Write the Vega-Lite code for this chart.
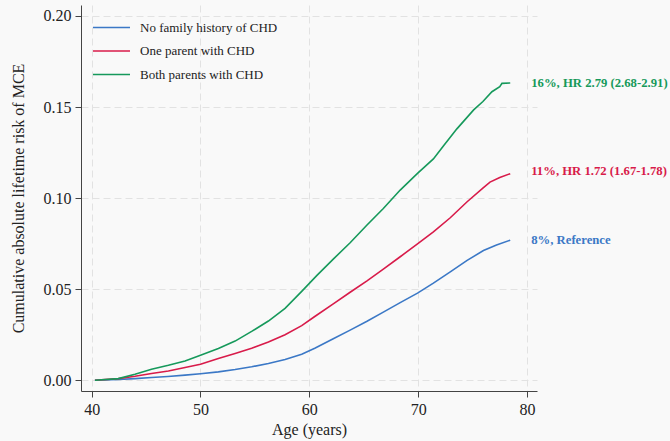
{
  "$schema": "https://vega.github.io/schema/vega-lite/v6.json",
  "width": 456,
  "height": 386,
  "autosize": {"type": "none"},
  "padding": {"left": 81, "top": 5, "right": 133, "bottom": 50},
  "background": "#f9f9f9",
  "config": {
    "font": "Liberation Serif",
    "view": {"stroke": null},
    "axis": {
      "labelFont": "Liberation Serif",
      "titleFont": "Liberation Serif",
      "labelFontSize": 16,
      "titleFontSize": 16,
      "titleFontWeight": "normal",
      "labelColor": "#222",
      "titleColor": "#222",
      "domainColor": "#444",
      "tickColor": "#444",
      "tickSize": 6,
      "labelPadding": 4,
      "gridColor": "#e2e2e2",
      "gridDash": [7, 4],
      "gridWidth": 1
    }
  },
  "datasets": {
    "curves": [
      {"group": "No family history of CHD", "age": 40.3, "risk": 0},
      {"group": "No family history of CHD", "age": 42.45, "risk": 0.0004},
      {"group": "No family history of CHD", "age": 44.0, "risk": 0.0009},
      {"group": "No family history of CHD", "age": 45.5, "risk": 0.0015},
      {"group": "No family history of CHD", "age": 47.0, "risk": 0.0021},
      {"group": "No family history of CHD", "age": 48.58, "risk": 0.0028},
      {"group": "No family history of CHD", "age": 50.0, "risk": 0.0036},
      {"group": "No family history of CHD", "age": 51.64, "risk": 0.0046},
      {"group": "No family history of CHD", "age": 53.18, "risk": 0.0059},
      {"group": "No family history of CHD", "age": 54.7, "risk": 0.0074},
      {"group": "No family history of CHD", "age": 56.24, "risk": 0.0092},
      {"group": "No family history of CHD", "age": 57.77, "risk": 0.0114},
      {"group": "No family history of CHD", "age": 59.3, "risk": 0.0143},
      {"group": "No family history of CHD", "age": 60.5, "risk": 0.0176},
      {"group": "No family history of CHD", "age": 62.2, "risk": 0.0228},
      {"group": "No family history of CHD", "age": 63.75, "risk": 0.0275},
      {"group": "No family history of CHD", "age": 65.3, "risk": 0.0324},
      {"group": "No family history of CHD", "age": 66.8, "risk": 0.0374},
      {"group": "No family history of CHD", "age": 68.35, "risk": 0.0426},
      {"group": "No family history of CHD", "age": 69.94, "risk": 0.0478},
      {"group": "No family history of CHD", "age": 71.4, "risk": 0.0533},
      {"group": "No family history of CHD", "age": 72.95, "risk": 0.0595},
      {"group": "No family history of CHD", "age": 74.5, "risk": 0.0658},
      {"group": "No family history of CHD", "age": 76.0, "risk": 0.0712},
      {"group": "No family history of CHD", "age": 77.2, "risk": 0.0742},
      {"group": "No family history of CHD", "age": 78.46, "risk": 0.0769},
      {"group": "One parent with CHD", "age": 40.3, "risk": 0},
      {"group": "One parent with CHD", "age": 42.45, "risk": 0.0009},
      {"group": "One parent with CHD", "age": 43.98, "risk": 0.0022},
      {"group": "One parent with CHD", "age": 45.5, "risk": 0.0037},
      {"group": "One parent with CHD", "age": 47.05, "risk": 0.0051},
      {"group": "One parent with CHD", "age": 48.58, "risk": 0.007},
      {"group": "One parent with CHD", "age": 50.0, "risk": 0.0088},
      {"group": "One parent with CHD", "age": 51.64, "risk": 0.0119},
      {"group": "One parent with CHD", "age": 53.18, "risk": 0.0147},
      {"group": "One parent with CHD", "age": 54.7, "risk": 0.0176},
      {"group": "One parent with CHD", "age": 56.24, "risk": 0.021},
      {"group": "One parent with CHD", "age": 57.77, "risk": 0.0250},
      {"group": "One parent with CHD", "age": 59.3, "risk": 0.0300},
      {"group": "One parent with CHD", "age": 60.5, "risk": 0.0350},
      {"group": "One parent with CHD", "age": 62.2, "risk": 0.0419},
      {"group": "One parent with CHD", "age": 63.75, "risk": 0.0483},
      {"group": "One parent with CHD", "age": 65.3, "risk": 0.0546},
      {"group": "One parent with CHD", "age": 66.8, "risk": 0.061},
      {"group": "One parent with CHD", "age": 68.35, "risk": 0.0678},
      {"group": "One parent with CHD", "age": 69.94, "risk": 0.0749},
      {"group": "One parent with CHD", "age": 71.4, "risk": 0.0815},
      {"group": "One parent with CHD", "age": 72.95, "risk": 0.0892},
      {"group": "One parent with CHD", "age": 74.5, "risk": 0.098},
      {"group": "One parent with CHD", "age": 76.0, "risk": 0.1058},
      {"group": "One parent with CHD", "age": 76.6, "risk": 0.1088},
      {"group": "One parent with CHD", "age": 77.5, "risk": 0.1113},
      {"group": "One parent with CHD", "age": 78.46, "risk": 0.1134},
      {"group": "Both parents with CHD", "age": 40.3, "risk": 0},
      {"group": "Both parents with CHD", "age": 42.45, "risk": 0.0009},
      {"group": "Both parents with CHD", "age": 43.98, "risk": 0.0033},
      {"group": "Both parents with CHD", "age": 45.5, "risk": 0.006},
      {"group": "Both parents with CHD", "age": 47.05, "risk": 0.0082},
      {"group": "Both parents with CHD", "age": 48.58, "risk": 0.0106},
      {"group": "Both parents with CHD", "age": 50.0, "risk": 0.0137},
      {"group": "Both parents with CHD", "age": 51.64, "risk": 0.0174},
      {"group": "Both parents with CHD", "age": 53.18, "risk": 0.0215},
      {"group": "Both parents with CHD", "age": 54.7, "risk": 0.0268},
      {"group": "Both parents with CHD", "age": 56.24, "risk": 0.0325},
      {"group": "Both parents with CHD", "age": 57.77, "risk": 0.0395},
      {"group": "Both parents with CHD", "age": 59.3, "risk": 0.0488},
      {"group": "Both parents with CHD", "age": 60.7, "risk": 0.0576},
      {"group": "Both parents with CHD", "age": 62.2, "risk": 0.0665},
      {"group": "Both parents with CHD", "age": 63.75, "risk": 0.0755},
      {"group": "Both parents with CHD", "age": 65.3, "risk": 0.0852},
      {"group": "Both parents with CHD", "age": 66.8, "risk": 0.0943},
      {"group": "Both parents with CHD", "age": 68.35, "risk": 0.1044},
      {"group": "Both parents with CHD", "age": 69.94, "risk": 0.1136},
      {"group": "Both parents with CHD", "age": 71.4, "risk": 0.1215},
      {"group": "Both parents with CHD", "age": 72.3, "risk": 0.1285},
      {"group": "Both parents with CHD", "age": 73.56, "risk": 0.1380},
      {"group": "Both parents with CHD", "age": 75.1, "risk": 0.1484},
      {"group": "Both parents with CHD", "age": 75.95, "risk": 0.1530},
      {"group": "Both parents with CHD", "age": 76.78, "risk": 0.1584},
      {"group": "Both parents with CHD", "age": 77.5, "risk": 0.1612},
      {"group": "Both parents with CHD", "age": 77.7, "risk": 0.163},
      {"group": "Both parents with CHD", "age": 78.46, "risk": 0.1632}
    ],
    "labels": [
      {"group": "No family history of CHD", "age": 78.46, "risk": 0.0769, "label": "8%, Reference"},
      {"group": "One parent with CHD", "age": 78.46, "risk": 0.1150, "label": "11%, HR 1.72 (1.67-1.78)"},
      {"group": "Both parents with CHD", "age": 78.46, "risk": 0.1632, "label": "16%, HR 2.79 (2.68-2.91)"}
    ]
  },
  "encoding": {
    "x": {
      "field": "age", "type": "quantitative",
      "scale": {"domain": [39.02, 80.92], "nice": false, "zero": false},
      "axis": {"values": [40, 50, 60, 70, 80], "title": "Age (years)", "titlePadding": 4, "grid": true}
    },
    "y": {
      "field": "risk", "type": "quantitative",
      "scale": {"domain": [-0.0059, 0.206], "nice": false, "zero": false},
      "axis": {"values": [0, 0.05, 0.1, 0.15, 0.2], "format": ".2f", "title": "Cumulative absolute lifetime risk of MCE", "titlePadding": 17, "grid": true}
    },
    "color": {
      "field": "group", "type": "nominal",
      "scale": {
        "domain": ["No family history of CHD", "One parent with CHD", "Both parents with CHD"],
        "range": ["#3b78c6", "#d81b4a", "#16995b"]
      },
      "legend": {
        "title": null,
        "orient": "none",
        "legendX": 20,
        "legendY": 12,
        "symbolType": "M-2,0L2,0",
        "symbolSize": 342,
        "symbolStrokeWidth": 1.6,
        "labelFont": "Liberation Serif",
        "labelFontSize": 13,
        "labelColor": "#222",
        "labelOffset": 18,
        "rowPadding": 5.5,
        "padding": 0
      }
    }
  },
  "layer": [
    {
      "data": {"name": "curves"},
      "mark": {"type": "line", "strokeWidth": 1.6, "interpolate": "linear"}
    },
    {
      "data": {"name": "labels"},
      "mark": {"type": "text", "align": "left", "baseline": "middle", "dx": 21, "fontWeight": "bold", "fontSize": 12.7, "font": "Liberation Serif"},
      "encoding": {"text": {"field": "label"}}
    }
  ]
}
